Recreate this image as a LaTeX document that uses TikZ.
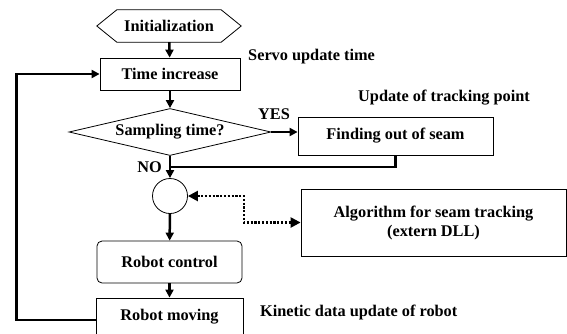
\documentclass[tikz,border=0pt]{standalone}
\usepackage{fontspec}
\setmainfont{Liberation Serif}
\usetikzlibrary{shapes.geometric,arrows.meta,calc}
\begin{document}
\begin{tikzpicture}[x=1pt,y=-1pt,
  font=\fontsize{16.3}{19}\selectfont\bfseries,
  box/.style={draw, line width=0.8pt, inner sep=0pt},
  lbl/.style={inner sep=0pt},
  thickline/.style={line width=2.5pt},
  flow/.style={line width=2.5pt, -{Triangle[length=8pt,width=8pt]}},
  dots/.style={line width=2.3pt, dash pattern=on 2.2pt off 1.6pt,
    {Triangle[length=10pt,width=10pt]}-{Triangle[length=10pt,width=10pt]}}]
\useasboundingbox (0,0) rectangle (567,333);
\fill[white] (0,0) rectangle (567,333);

\node[lbl, minimum width=144pt, minimum height=32pt] (init) at (169,26) {Initialization};
\draw[line width=0.8pt] (init.west) -- ([xshift=20pt]init.north west) -- ([xshift=-20pt]init.north east)
  -- (init.east) -- ([xshift=-20pt]init.south east) -- ([xshift=20pt]init.south west) -- cycle;

\node[box, minimum width=140pt, minimum height=32pt] (time) at (170,74) {Time increase};
\node[diamond, draw, line width=0.8pt, inner sep=0pt, aspect=4.3,
  minimum width=202pt, minimum height=47pt] (samp) at (170,132) {Sampling time?};
\node[box, minimum width=195pt, minimum height=38pt] (find) at (395.5,136) {Finding out of seam};
\node[circle, draw, line width=0.8pt, minimum size=35pt, inner sep=0pt] (sum) at (170,196) {};
\node[box, minimum width=265pt, minimum height=67pt, align=center] (algo) at (433.5,222.5)
  {Algorithm for seam tracking\\(extern DLL)};
\node[box, rounded corners=5pt, minimum width=145pt, minimum height=42pt] (rc) at (169.5,262) {Robot control};
\node[box, minimum width=147pt, minimum height=38pt] (rm) at (169.5,317) {Robot moving};

\node[lbl, anchor=west] (servo) at (248,57) {Servo update time};
\node[lbl, anchor=west] (upd) at (358,98) {Update of tracking point};
\node[lbl, anchor=west] (yes) at (258,114) {YES};
\node[lbl, anchor=east] (no) at (162,167) {NO};
\node[lbl, anchor=west] (kin) at (260,312) {Kinetic data update of robot};

\draw[flow] (init) -- (time);
\draw[flow] (time) -- (samp);
\draw[flow] (samp.east) -- (samp.east -| find.west);
\draw[flow] (samp.south) -- (sum.north);
\draw[thickline] (find.south) |- ($(samp.south)!0.5!(sum.north)$);
\draw[flow] (sum) -- (rc);
\draw[flow] (rc) -- (rm);
\draw[flow] ([yshift=-3pt]rm.west) -| ([xshift=-83pt]time.west) -- (time.west);
\draw[dots] (sum.east) -- ++(56,0) |- (algo.west);
\end{tikzpicture}
\end{document}
